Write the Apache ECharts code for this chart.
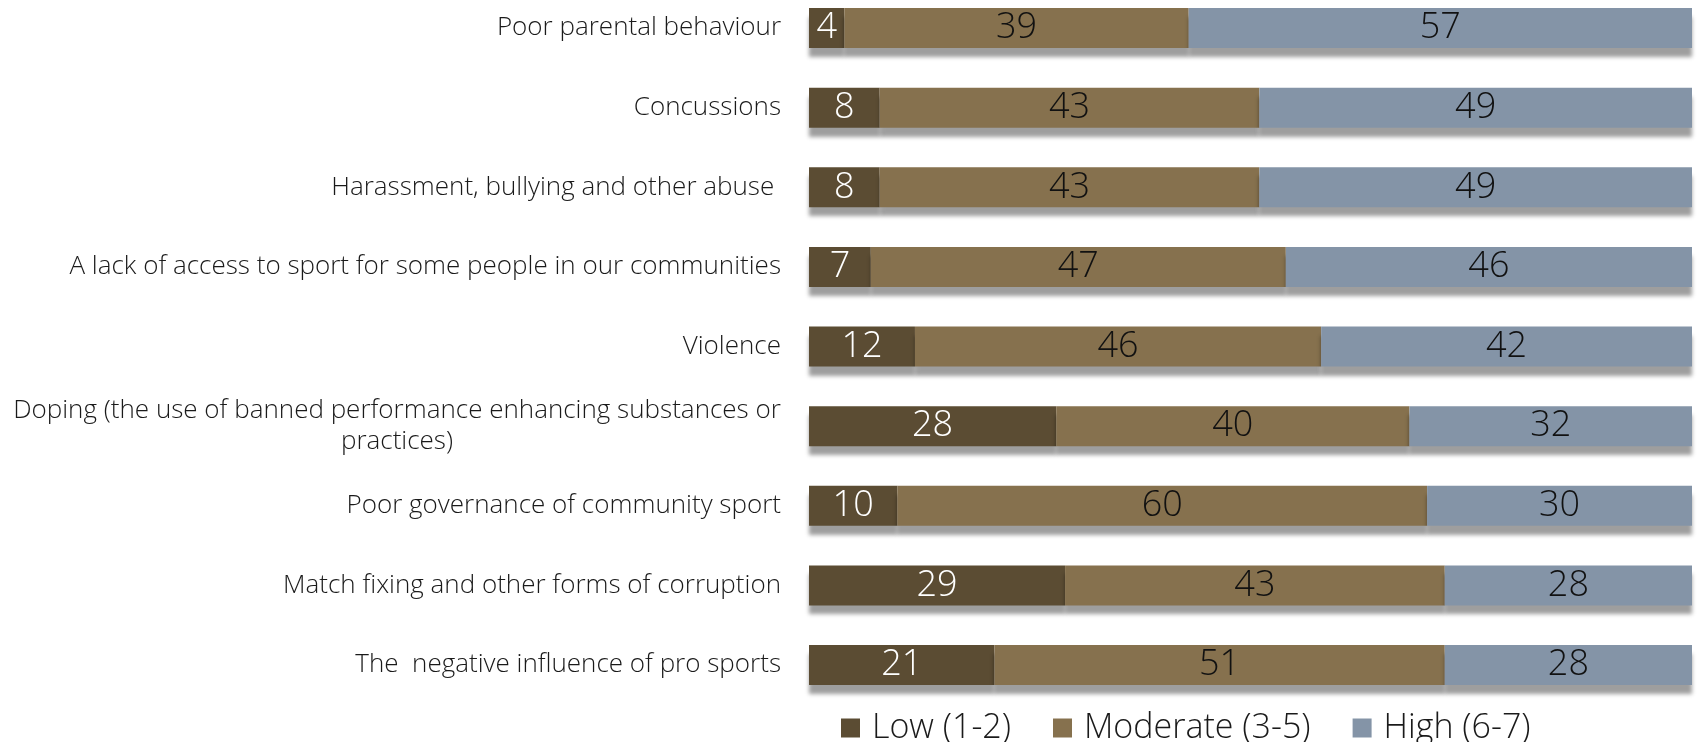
<!DOCTYPE html>
<html>
<head>
<meta charset="utf-8">
<script src="https://cdn.jsdelivr.net/npm/echarts@6/dist/echarts.min.js"></script>
<style>
  html, body { margin: 0; padding: 0; background: #ffffff; }
  #chart { width: 1697px; height: 742px; }
</style>
</head>
<body>
<div id="chart"></div>
<script>
// Issues in sport, share of respondents rating each concern (percent)
const categories = [
  'Poor parental behaviour',
  'Concussions',
  'Harassment, bullying and other abuse ',
  'A lack of access to sport for some people in our communities',
  'Violence',
  'Doping (the use of banned performance enhancing substances or\npractices)',
  'Poor governance of community sport',
  'Match fixing and other forms of corruption',
  'The  negative influence of pro sports'
];
const seriesNames = ['Low (1-2)', 'Moderate (3-5)', 'High (6-7)'];
const lowValues = [4, 8, 8, 7, 12, 28, 10, 29, 21];
const moderateValues = [39, 43, 43, 47, 46, 40, 60, 43, 51];
const highValues = [57, 49, 49, 46, 42, 32, 30, 28, 28];

const FONT = '"Open Sans", "Noto Sans", sans-serif';
const catFontSize = 26;
const colors = ['#5b4c33', '#86714e', '#8494a7'];

// width of the longest line of a wrapped label, so both lines centre in one block
function lineWidth(text) {
  const ctx = document.createElement('canvas').getContext('2d');
  ctx.font = '300 ' + catFontSize + 'px ' + FONT;
  return Math.ceil(ctx.measureText(text).width);
}

const chart = echarts.init(document.getElementById('chart'));

function barSeries(name, values, color, labelColor) {
  return {
    name: name,
    type: 'bar',
    stack: 'total',
    data: values,
    barWidth: 40,
    itemStyle: {
      color: color,
      shadowColor: 'rgba(0,0,0,0.38)',
      shadowOffsetY: 9,
      shadowBlur: 4
    },
    label: {
      show: true,
      position: 'inside',
      color: labelColor,
      fontFamily: FONT,
      fontWeight: 300,
      fontSize: 36
    }
  };
}

chart.setOption({
  animation: false,
  backgroundColor: '#ffffff',
  // category centres run from the first bar (top) to the last bar (bottom)
  grid: { left: 809, right: 5, top: 28, height: 637 },
  xAxis: { type: 'value', min: 0, max: 100, show: false },
  yAxis: {
    type: 'category',
    inverse: true,
    boundaryGap: false,
    data: categories,
    axisLine: { show: false },
    axisTick: { show: false },
    splitLine: { show: false },
    axisLabel: {
      margin: 28,
      color: '#1a1a1a',
      fontFamily: FONT,
      fontWeight: 300,
      fontSize: catFontSize,
      lineHeight: 31,
      formatter: function (v) {
        if (v.indexOf('\n') < 0) return v;
        const lines = v.split('\n');
        return lines.map(function (l) { return '{c|' + l + '}'; }).join('\n');
      },
      rich: {
        c: {
          width: lineWidth(categories[5].split('\n')[0]),
          align: 'center',
          color: '#1a1a1a',
          fontFamily: FONT,
          fontWeight: 300,
          fontSize: catFontSize,
          lineHeight: 31
        }
      }
    }
  },
  legend: {
    data: seriesNames,
    left: 836,
    top: 706,
    icon: 'rect',
    itemWidth: 19,
    itemHeight: 19,
    itemGap: 42,
    textStyle: {
      color: '#1a1a1a',
      fontFamily: FONT,
      fontWeight: 300,
      fontSize: 34,
      padding: [0, 0, 0, 7]
    }
  },
  series: [
    barSeries(seriesNames[0], lowValues, colors[0], '#ffffff'),
    barSeries(seriesNames[1], moderateValues, colors[1], '#111111'),
    barSeries(seriesNames[2], highValues, colors[2], '#111111')
  ]
});
</script>
</body>
</html>
